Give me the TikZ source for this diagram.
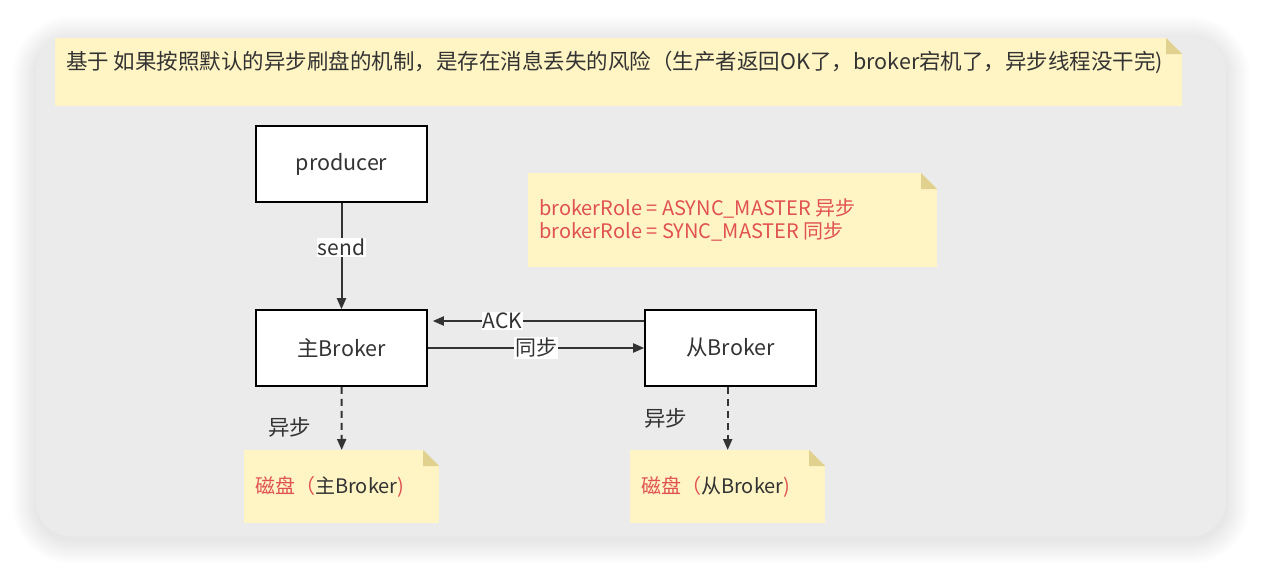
\documentclass[tikz,border=0pt]{standalone}
\usepackage{fontspec}
\setmainfont{Noto Sans CJK SC}
\usetikzlibrary{arrows.meta, positioning, calc}
\definecolor{panelgray}{HTML}{EBEBEB}
\definecolor{notefill}{HTML}{FFF4C3}
\definecolor{notefold}{HTML}{E0D18F}
\definecolor{inkgray}{HTML}{333333}
\definecolor{notered}{HTML}{E05252}
\tikzstyle{arrow} = [line width=2pt, draw=inkgray, -{Triangle[length=11pt, width=9pt]}]
\tikzset{
  brokerbox/.style={draw=black, fill=white, line width=1.6pt, minimum width=171pt,
    minimum height=76pt, text=inkgray, font=\fontsize{21.5}{25}\selectfont},
  note/.style={fill=notefill, anchor=north west, inner sep=0pt,
    path picture={
      \fill[panelgray] ($(path picture bounding box.north east)+(-16pt,0pt)$)
        -- (path picture bounding box.north east)
        -- ($(path picture bounding box.north east)+(0pt,-16pt)$) -- cycle;
      \fill[notefold] ($(path picture bounding box.north east)+(-16pt,0pt)$)
        -- ($(path picture bounding box.north east)+(-16pt,-16pt)$)
        -- ($(path picture bounding box.north east)+(0pt,-16pt)$) -- cycle;
    }},
  notetext/.style={anchor=west, inner sep=0pt, align=left, text=inkgray},
  edgelabel/.style={fill=white, inner sep=1pt, text=inkgray, font=\fontsize{21}{25}\selectfont},
  sidelabel/.style={inner sep=0pt, text=inkgray, font=\fontsize{21.5}{25}\selectfont}
}

\begin{document}
\begin{tikzpicture}[x=1pt, y=-1pt]
    \useasboundingbox (0,0) rectangle (1262,572);
    % panel with soft shadow
    \foreach \i in {1,...,24}
      \fill[black, opacity=0.005, rounded corners=35pt+\i pt]
        (36-\i,36-\i+4) rectangle (1226+\i,536+\i+4);
    \fill[panelgray, rounded corners=35pt] (36,36) rectangle (1226,536);

    % notes
    \node[note, minimum width=1127pt, minimum height=68pt] (topnote) at (55,38) {};
    \node[notetext, font=\fontsize{21.5}{25}\selectfont] (topnotetext)
      at ([shift={(11pt,-24pt)}]topnote.north west)
      {基于 如果按照默认的异步刷盘的机制，是存在消息丢失的风险（生产者返回OK了，broker宕机了，异步线程没干完)};
    \node[note, minimum width=409pt, minimum height=94pt] (rolenote) at (528,173) {};
    \node[notetext, text=notered, font=\fontsize{20}{23}\selectfont] (roletext)
      at ([xshift=11pt]rolenote.west)
      {brokerRole = ASYNC\_MASTER 异步\\brokerRole = SYNC\_MASTER 同步};

    % brokers
    \node[brokerbox] (producer) at (341.5,164) {producer};
    \node[brokerbox] (mainbroker) at (341.5,348) {主Broker};
    \node[brokerbox] (slavebroker) at (730.5,348) {从Broker};

    % disks
    \node[note, minimum width=195pt, minimum height=73pt] (maindisk) at (244,450) {};
    \node[notetext, font=\fontsize{20}{23}\selectfont] (maindisktext)
      at ([xshift=11pt]maindisk.west)
      {\textcolor{notered}{磁盘（}主Broker\textcolor{notered}{)}};
    \node[note, minimum width=195pt, minimum height=73pt] (slavedisk) at (630,450) {};
    \node[notetext, font=\fontsize{20}{23}\selectfont] (slavedisktext)
      at ([xshift=11pt]slavedisk.west)
      {\textcolor{notered}{磁盘（}从Broker\textcolor{notered}{)}};

    % connectors
    \draw[arrow] (producer) -- node[edgelabel, pos=0.42] {send} (mainbroker);
    \draw[arrow] ([yshift=27pt]slavebroker.west) -- node[edgelabel, pos=0.67] {ACK}
      ([shift={(5pt,27pt)}]mainbroker.east);
    \draw[arrow] (mainbroker.east) -- node[edgelabel] {同步} (slavebroker.west);
    \draw[arrow, dashed, dash pattern=on 7pt off 5pt] (mainbroker.south)
      -- node[sidelabel, pos=0.64, xshift=-52pt] {异步} (maindisk.north);
    \draw[arrow, dashed, dash pattern=on 7pt off 5pt] (slavedisk.north |- slavebroker.south)
      -- node[sidelabel, pos=0.5, xshift=-62pt] {异步} (slavedisk.north);
\end{tikzpicture}
\end{document}
